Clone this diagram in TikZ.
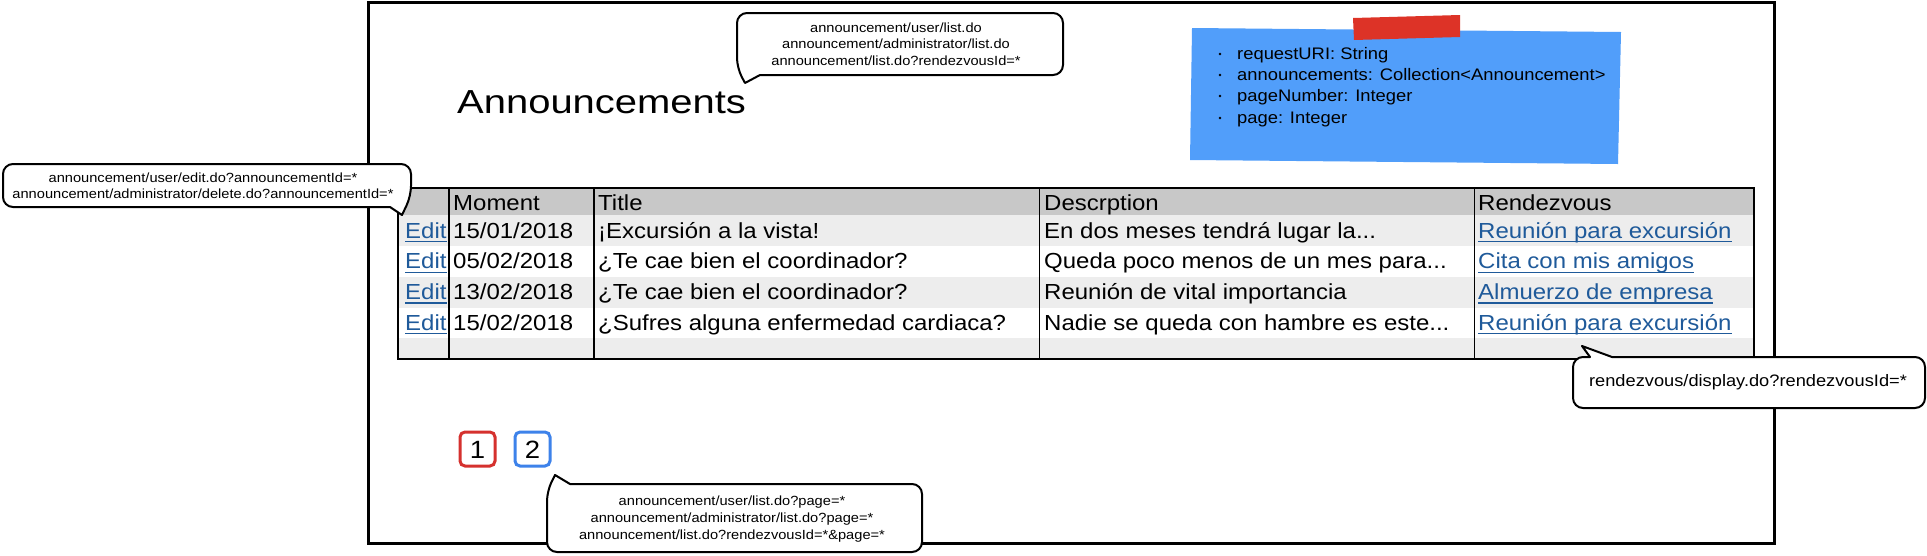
\documentclass[tikz,border=0pt]{standalone}
\usepackage{fontspec}
\setmainfont{Liberation Sans}
\newfontfamily\bfont[FakeStretch=1.1]{Liberation Sans}
\newfontfamily\tfont[FakeStretch=1.2]{Liberation Sans}
\definecolor{hdrgray}{HTML}{C8C8C8}
\definecolor{rowgray}{HTML}{EDEDED}
\definecolor{linkblue}{HTML}{1F5A9A}
\definecolor{noteblue}{HTML}{519EFA}
\definecolor{tapered}{HTML}{DD3327}
\definecolor{pgred}{HTML}{D5312E}
\definecolor{pgblue}{HTML}{3D82EA}
\begin{document}
\begin{tikzpicture}[x=1pt,y=-1pt,
  txt/.style={inner sep=0, anchor=base west, font=\bfont\fontsize{21.8}{26}\selectfont},
  lnk/.style={txt, text=linkblue},
  ul/.style={draw=linkblue, line width=1.4pt},
  ctext/.style={inner sep=0, anchor=base, font=\bfont\fontsize{13.3}{16}\selectfont},
  ntext/.style={inner sep=0, anchor=base west, font=\bfont\fontsize{16.7}{20}\selectfont},
  callout/.style={draw=black, line width=2pt, fill=white, line join=round},
  colsep/.style={draw=black, line width=1.8pt},
  pgbox/.style={line width=3pt, rounded corners=5pt},
  pgtext/.style={inner sep=0, anchor=base, font=\bfont\fontsize{25}{30}\selectfont}
]
\useasboundingbox (0,0) rectangle (1927,555);
\fill[white] (0,0) rectangle (1927,555);

% main frame
\draw[line width=3pt] (368,2.5) rectangle (1774,543);

% title
\node[inner sep=0, anchor=base west, font=\tfont\fontsize{33.3}{40}\selectfont] (title) at (457,113) {Announcements};

% table backgrounds
\fill[hdrgray] (398,188) rectangle (1754,215);
\fill[rowgray] (398,215) rectangle (1754,246);
\fill[rowgray] (398,277) rectangle (1754,308);
\fill[rowgray] (398,338) rectangle (1754,359);
\foreach \x in {449,594,1039.5,1474.5} \draw[colsep] (\x,188) -- (\x,359);
\draw[line width=2.5pt] (398,188) rectangle (1754,359);

% header
\node[txt] (hmoment) at (453,210) {Moment};
\node[txt] (htitle) at (598,210) {Title};
\node[txt] (hdesc) at (1044,210) {Descrption};
\node[txt] (hrdv) at (1478,210) {Rendezvous};

% rows
\node[lnk] (e1) at (405,238) {Edit};
\node[lnk] (e2) at (405,268.7) {Edit};
\node[lnk] (e3) at (405,299.3) {Edit};
\node[lnk] (e4) at (405,330) {Edit};
\node[txt] (d1) at (453,238) {15/01/2018};
\node[txt] (d2) at (453,268.7) {05/02/2018};
\node[txt] (d3) at (453,299.3) {13/02/2018};
\node[txt] (d4) at (453,330) {15/02/2018};
\node[txt] (t1) at (598,238) {¡Excursión a la vista!};
\node[txt] (t2) at (598,268.7) {¿Te cae bien el coordinador?};
\node[txt] (t3) at (598,299.3) {¿Te cae bien el coordinador?};
\node[txt] (t4) at (598,330) {¿Sufres alguna enfermedad cardiaca?};
\node[txt] (s1) at (1044,238) {En dos meses tendrá lugar la...};
\node[txt] (s2) at (1044,268.7) {Queda poco menos de un mes para...};
\node[txt] (s3) at (1044,299.3) {Reunión de vital importancia};
\node[txt] (s4) at (1044,330) {Nadie se queda con hambre es este...};
\node[lnk] (r1) at (1478,238) {Reunión para excursión};
\node[lnk] (r2) at (1478,268.7) {Cita con mis amigos};
\node[lnk] (r3) at (1478,299.3) {Almuerzo de empresa};
\node[lnk] (r4) at (1478,330) {Reunión para excursión};
\foreach \n in {e1,e2,e3,e4,r1,r2,r3,r4}
  \draw[ul] ([yshift=-3.5pt]\n.base west) -- ([yshift=-3.5pt]\n.base east);

% sticky note
\fill[noteblue] (1192,28) -- (1621,32) -- (1618,164) -- (1190,160) -- cycle;
\fill[tapered] (1353,18) -- (1460,15) -- (1460,37) -- (1354,40) -- cycle;
\foreach \yy/\nm/\tx in {59/n1/{requestURI: String},80/n2/{announcements: Collection<Announcement>},101/n3/{pageNumber: Integer},123/n4/{page: Integer}}{
  \fill (1220,\yy-5) circle (1.3);
  \node[ntext] (\nm) at (1237,\yy) {\tx};
}

% pagination
\draw[pgbox, draw=pgred] (460,432) rectangle (495,466);
\draw[pgbox, draw=pgblue] (515,432) rectangle (550,466);
\node[pgtext] (p1) at (477.5,458) {1};
\node[pgtext] (p2) at (532.5,458) {2};

% top callout
\draw[callout] (760,75) [rounded corners=10pt] -- (1063,75) -- (1063,13) -- (737,13) -- (737,68) [sharp corners] -- (745,83) -- cycle;
\node[ctext] (c1a) at (896,32) {announcement/user/list.do};
\node[ctext] (c1b) at (896,48.5) {announcement/administrator/list.do};
\node[ctext] (c1c) at (896,65) {announcement/list.do?rendezvousId=*};

% left callout
\draw[callout] (390,207) [rounded corners=10pt] -- (3,207) -- (3,164) -- (411,164) -- (411,196) [sharp corners] -- (402,215) -- cycle;
\node[ctext] (c2a) at (203,182) {announcement/user/edit.do?announcementId=*};
\node[ctext] (c2b) at (203,198) {announcement/administrator/delete.do?announcementId=*};

% rendezvous callout
\draw[callout] (1612,357) [rounded corners=10pt] -- (1925,357) -- (1925,408) -- (1573,408) -- (1573,357) [sharp corners] -- (1590,357) -- (1582,346) -- cycle;
\node[inner sep=0, anchor=base, font=\bfont\fontsize{16.6}{20}\selectfont] (c3) at (1748,386) {rendezvous/display.do?rendezvousId=*};

% bottom callout
\draw[callout] (570,484) [rounded corners=10pt] -- (922,484) -- (922,552) -- (547,552) -- (547,491) [sharp corners] -- (555,475) -- cycle;
\node[ctext] (c4a) at (732,505) {announcement/user/list.do?page=*};
\node[ctext] (c4b) at (732,522) {announcement/administrator/list.do?page=*};
\node[ctext] (c4c) at (732,539) {announcement/list.do?rendezvousId=*\&page=*};
\end{tikzpicture}
\end{document}
